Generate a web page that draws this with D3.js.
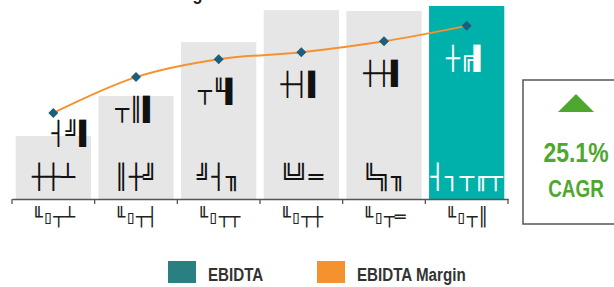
<!DOCTYPE html>
<html>
<head>
<meta charset="utf-8">
<script src="https://cdn.jsdelivr.net/npm/d3@7"></script>
<style>
  body { margin: 0; background: #fff; }
  svg { display: block; }
</style>
</head>
<body>
<div id="chart"></div>
<script>
// categories (labels as they appear, box-drawing glyphs)
const categories = ["╙▯┬┴", "╙▯┬┤", "╙▯┬┬", "╙▯┬┼", "╙▯┬═", "╙▯┬║"];
const ebitda = [63, 103, 157, 189, 188, 193];
const ebitdaLabels = ["┼┼┴", "║┼╝", "╝┤╖", "╚╝═", "╚╗╖", "┤┐┬╓┬"];
const margin = [17.3, 24.5, 28.1, 29.5, 31.7, 34.8];
const marginLabels = ["┤╝▌", "┬║▌", "┬╙▌", "┼┤▌", "┼┼▌", "┼╔▌"];
const legendItems = ["EBIDTA", "EBIDTA Margin"];
const cagrValue = "25.1%";
const cagrLabel = "CAGR";

const width = 614, height = 287;
const boxFont = "'DejaVu Sans Mono', monospace";
const textFont = "'Liberation Sans', Arial, sans-serif";
const narrow = 0.82; // squeeze to look like a condensed face

const svg = d3.select("#chart").append("svg")
  .attr("width", width)
  .attr("height", height);

const x = d3.scaleBand()
  .domain(categories)
  .range([12, 508])
  .paddingInner(0.09)
  .paddingOuter(0.045);

const y = d3.scaleLinear()
  .domain([0, 193])
  .range([199, 6]);

const y2 = d3.scaleLinear()
  .domain([0, 40])
  .range([199, 0]);

// title (mostly off the top)
svg.append("text")
  .attr("transform", `translate(217, 0) scale(${narrow}, 1)`)
  .attr("text-anchor", "end")
  .style("font-family", textFont)
  .style("font-size", "20px")
  .style("font-weight", "bold")
  .style("fill", "#222")
  .text("EBIDTA Margin");

// bars
svg.selectAll(".bar")
  .data(ebitda)
  .enter()
  .append("rect")
  .attr("x", (d, i) => x(categories[i]))
  .attr("y", d => y(d))
  .attr("width", x.bandwidth())
  .attr("height", d => y(0) - y(d))
  .attr("fill", (d, i) => i === ebitda.length - 1 ? "#00B0AA" : "#E6E6E6");

// bar labels inside
svg.selectAll(".bar-label")
  .data(ebitdaLabels)
  .enter()
  .append("text")
  .attr("x", (d, i) => x(categories[i]) + x.bandwidth() / 2)
  .attr("y", y(0) - 22)
  .attr("text-anchor", "middle")
  .attr("dominant-baseline", "central")
  .style("font-family", boxFont)
  .style("font-size", "24px")
  .style("fill", (d, i) => i === ebitdaLabels.length - 1 ? "#fff" : "#111")
  .text(d => d);

// axis
const axis = svg.append("g")
  .attr("transform", `translate(0, ${y(0)})`)
  .call(d3.axisBottom(x).tickSize(0).tickPadding(11));
axis.select(".domain").attr("stroke", "#555").attr("stroke-width", 1.3);
axis.selectAll("text")
  .style("font-family", boxFont)
  .style("font-size", "18px")
  .style("fill", "#222");

const bounds = categories.map(c => x(c) - x.step() * x.paddingInner() / 2);
bounds.push(x.range()[1]);
bounds[0] = x.range()[0];
axis.selectAll(".bound")
  .data(bounds)
  .enter()
  .append("line")
  .attr("x1", d => d)
  .attr("x2", d => d)
  .attr("y1", 0)
  .attr("y2", 5)
  .attr("stroke", "#555")
  .attr("stroke-width", 1.3);

// margin line
const line = d3.line()
  .x((d, i) => x(categories[i]) + x.bandwidth() / 2)
  .y(d => y2(d))
  .curve(d3.curveMonotoneX);

svg.append("path")
  .datum(margin)
  .attr("d", line)
  .attr("fill", "none")
  .attr("stroke", "#F5922F")
  .attr("stroke-width", 2);

svg.selectAll(".pt")
  .data(margin)
  .enter()
  .append("path")
  .attr("d", d3.symbol(d3.symbolSquare, 50))
  .attr("transform", (d, i) => `translate(${x(categories[i]) + x.bandwidth() / 2}, ${y2(d)}) rotate(45)`)
  .attr("fill", "#1B5E7E");

// margin labels
svg.selectAll(".m-label")
  .data(margin)
  .enter()
  .append("text")
  .attr("x", (d, i) => x(categories[i]) + x.bandwidth() / 2 + (i === 0 ? 19 : 0))
  .attr("y", (d, i) => y2(d) + (i === 0 ? 20 : 32))
  .attr("text-anchor", "middle")
  .attr("dominant-baseline", "central")
  .style("font-family", boxFont)
  .style("font-size", "23px")
  .style("fill", (d, i) => i === margin.length - 1 ? "#fff" : "#111")
  .text((d, i) => marginLabels[i]);

// CAGR box
const box = svg.append("g");
box.append("rect")
  .attr("x", 523)
  .attr("y", 80)
  .attr("width", 110)
  .attr("height", 144)
  .attr("fill", "#fff")
  .attr("stroke", "#555")
  .attr("stroke-width", 1.5);
box.append("path")
  .attr("d", "M558,112 L576,94 L594,112 Z")
  .attr("fill", "#4EA72E");
box.append("text")
  .attr("transform", `translate(576, 162) scale(${narrow}, 1)`)
  .attr("text-anchor", "middle")
  .style("font-family", textFont)
  .style("font-size", "28px")
  .style("font-weight", "bold")
  .style("fill", "#4EA72E")
  .text(cagrValue);
box.append("text")
  .attr("transform", `translate(576, 197) scale(${narrow}, 1)`)
  .attr("text-anchor", "middle")
  .style("font-family", textFont)
  .style("font-size", "23px")
  .style("font-weight", "bold")
  .style("fill", "#4EA72E")
  .text(cagrLabel);

// legend
const legendColors = ["#2A7F80", "#F5922F"];
const legendX = [168, 317];
const legend = svg.selectAll(".legend")
  .data(legendItems)
  .enter()
  .append("g")
  .attr("transform", (d, i) => `translate(${legendX[i]}, 261)`);
legend.append("rect")
  .attr("width", 28)
  .attr("height", 22)
  .attr("fill", (d, i) => legendColors[i]);
legend.append("text")
  .attr("transform", `translate(40, 20) scale(${narrow}, 1)`)
  .style("font-family", textFont)
  .style("font-size", "18.5px")
  .style("font-weight", "bold")
  .style("fill", "#333")
  .text(d => d);
</script>
</body>
</html>
